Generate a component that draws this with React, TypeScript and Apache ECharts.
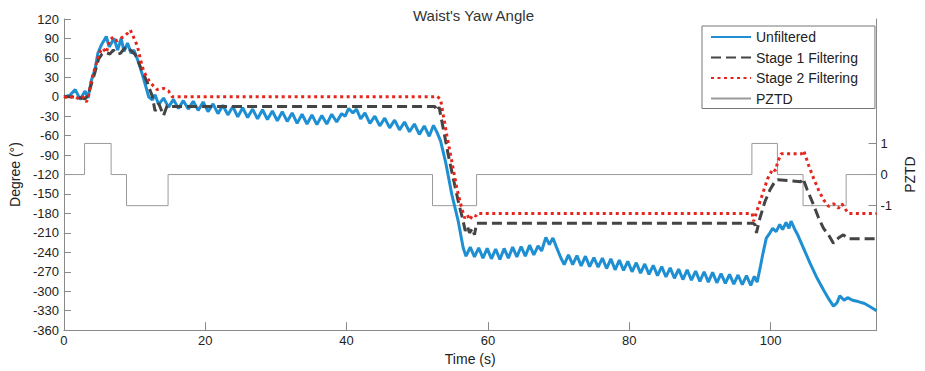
import React, { useEffect, useRef } from "react";
import * as echarts from "echarts";

const chartTitle = "Waist's Yaw Angle";
const xTickValues = [0, 20, 40, 60, 80, 100];
const pztdTickValues = [-1, 0, 1];

const unfiltered: [number, number][] = [
  [0, 0], [0.8, 2], [1.6, 11], [2.3, -4], [3.0, 9], [3.4, -2], [3.9, 26], [4.4, 42], [4.8, 67], [5.3, 80],
  [6.0, 93], [6.4, 77], [7.1, 90], [7.6, 72], [8.1, 90], [8.5, 70], [9.0, 83], [9.5, 67], [9.9, 72], [10.6, 52],
  [11.3, 27], [12.0, 0], [12.5, -5], [12.9, 3], [13.4, -12], [14.1, -2], [14.8, -16], [15.5, -4], [16.2, -18], [16.9, -6],
  [17.6, -19], [18.3, -7], [19.0, -21], [19.7, -8], [20.4, -23], [21.1, -11], [21.8, -26], [22.5, -13], [23.2, -28], [23.9, -15],
  [24.6, -31], [25.3, -17], [26.0, -32], [26.7, -19], [27.4, -34], [28.1, -20], [28.8, -35], [29.5, -22], [30.2, -37], [30.9, -23],
  [31.6, -38], [32.3, -25], [33.0, -41], [33.7, -27], [34.4, -42], [35.1, -28], [35.8, -43], [36.5, -29], [37.2, -42], [37.9, -27],
  [38.6, -39], [39.3, -26], [39.8, -30], [40.3, -18], [40.9, -25], [41.4, -19], [42.0, -34], [42.6, -25], [43.3, -41], [44.0, -30],
  [44.7, -45], [45.4, -33], [46.1, -48], [46.8, -36], [47.5, -51], [48.2, -39], [48.9, -54], [49.6, -42], [50.3, -58], [51.0, -45],
  [51.7, -61], [52.3, -44], [52.8, -55], [53.3, -68], [54.0, -100], [54.9, -151], [55.8, -192], [56.5, -233], [56.9, -246], [57.5, -232],
  [58.1, -247], [58.7, -233], [59.3, -249], [59.9, -234], [60.5, -250], [61.1, -235], [61.7, -251], [62.3, -234], [62.9, -249], [63.5, -232],
  [64.1, -247], [64.7, -231], [65.3, -246], [65.9, -229], [66.5, -244], [67.1, -230], [67.6, -238], [68.2, -217], [68.7, -228], [69.2, -218],
  [69.7, -232], [70.3, -248], [70.8, -259], [71.4, -244], [72.0, -259], [72.6, -245], [73.2, -261], [73.8, -246], [74.4, -262], [75.0, -248],
  [75.6, -263], [76.2, -249], [76.8, -265], [77.4, -250], [78.0, -267], [78.6, -252], [79.2, -268], [79.8, -254], [80.4, -270], [81.0, -256],
  [81.6, -272], [82.2, -258], [82.8, -274], [83.4, -260], [84.0, -276], [84.6, -262], [85.2, -278], [85.8, -264], [86.4, -280], [87.0, -266],
  [87.6, -282], [88.2, -267], [88.8, -283], [89.4, -269], [90.0, -285], [90.6, -270], [91.2, -286], [91.8, -271], [92.4, -287], [93.0, -273],
  [93.6, -288], [94.2, -274], [94.8, -289], [95.4, -275], [96.0, -290], [96.6, -276], [97.2, -291], [97.7, -277], [98.1, -286], [98.6, -260],
  [98.9, -243], [99.4, -218], [99.8, -212], [100.3, -203], [100.8, -208], [101.3, -197], [101.7, -205], [102.2, -194], [102.6, -203], [102.9, -192],
  [103.4, -204], [103.8, -212], [104.6, -232], [105.6, -257], [106.5, -278], [107.5, -298], [108.3, -313], [108.9, -323], [109.4, -318], [109.8, -307],
  [110.4, -314], [110.9, -310], [111.6, -314], [112.4, -316], [113.3, -319], [114.1, -324], [115, -330],
];

const stage1: [number, number][] = [
  [0, 0], [1, 0], [2, -1], [3, -3], [3.4, 2], [3.9, 20], [4.4, 38], [4.9, 58], [5.4, 66], [6.0, 68],
  [6.5, 66], [7.0, 72], [7.5, 66], [8.0, 67], [8.5, 74], [9.0, 77], [9.6, 70], [10.1, 65], [10.8, 47], [11.8, 22],
  [12.5, 1], [12.9, -22], [13.4, -10], [14.1, -29], [14.6, -14], [15.3, -15], [52.5, -15], [52.8, -22], [53.1, -16], [53.7, -50],
  [54.4, -90], [55.1, -126], [55.8, -161], [56.5, -192], [56.8, -207], [57.1, -200], [57.4, -210], [57.8, -203], [58.1, -213], [58.4, -195],
  [97.5, -195], [97.8, -197], [98.0, -210], [98.5, -187], [99.2, -162], [99.9, -144], [100.6, -131], [101.0, -128], [104.3, -131], [104.6, -126],
  [105.2, -144], [106.1, -167], [106.8, -187], [107.5, -203], [108.2, -213], [108.9, -226], [109.6, -218], [110.3, -213], [111.0, -219], [115, -219],
];

const stage2: [number, number][] = [
  [0, 0], [0.7, -2], [1.4, 1], [2.1, -3], [2.7, 0], [3.2, -8], [3.5, 2], [3.9, 26], [4.6, 52], [5.0, 68],
  [5.5, 75], [6.0, 68], [6.5, 88], [7.0, 92], [7.5, 86], [8.0, 90], [8.5, 93], [9.0, 98], [9.4, 103], [9.9, 91],
  [10.4, 78], [10.85, 57], [11.3, 39], [12.2, 22], [13.2, 11], [14.1, 13], [14.8, 9], [15.3, 0], [52.3, 0], [52.8, 1],
  [53.3, -4], [53.7, -29], [54.2, -60], [54.9, -100], [55.6, -141], [56.3, -172], [56.7, -187], [57.1, -182], [57.4, -190], [57.9, -182],
  [58.3, -184], [58.5, -180], [97.4, -180], [97.6, -192], [98.2, -172], [98.9, -149], [99.6, -126], [100.0, -118], [100.3, -111], [100.7, -114],
  [101.0, -101], [101.5, -88], [104.4, -88], [104.7, -83], [105.4, -106], [106.1, -126], [106.8, -144], [107.5, -159], [108.2, -169], [108.9, -165],
  [109.6, -172], [110.1, -165], [110.5, -172], [111.0, -180], [115, -180],
];

const pztd: [number, number][] = [
  [0, 0], [2.92, 1], [6.68, 0], [8.86, -1], [14.74, 0], [52.16, -1], [58.4, 0], [97.36, 1], [100.97, 0], [104.6, -1],
  [110.7, 0], [115, 0],
];

const FONT = "'Liberation Sans', Arial, Helvetica, sans-serif";
const AXIS_GRAY = "#8a8a8a";

export default function App() {
  const ref = useRef<HTMLDivElement>(null);
  useEffect(() => {
    if (!ref.current) return;
    const chart = echarts.init(ref.current, undefined, { renderer: "svg" });
    chart.setOption({
      animation: false,
      backgroundColor: "#ffffff",
      textStyle: { fontFamily: FONT },
      title: {
        text: chartTitle,
        left: 413,
        top: 8,
        padding: 0,
        textStyle: { fontFamily: FONT, fontSize: 15, fontWeight: "normal", color: "#333" },
      },
      legend: {
        left: 702,
        top: 26,
        orient: "vertical",
        padding: [4, 17, 3, 8],
        itemWidth: 40,
        itemHeight: 14,
        itemGap: 6.5,
        borderColor: "#777",
        borderWidth: 1,
        backgroundColor: "#fff",
        itemStyle: { opacity: 0, borderWidth: 0 },
        textStyle: { fontFamily: FONT, fontSize: 14, color: "#222" },
        data: ["Unfiltered", "Stage 1 Filtering", "Stage 2 Filtering", "PZTD"],
      },
      grid: { left: 62, right: 36, top: 19, bottom: 38, containLabel: false },
      xAxis: {
        type: "value",
        min: 0,
        max: 115,
        interval: 20,
        name: "Time (s)",
        nameLocation: "middle",
        nameGap: 21,
        nameTextStyle: { fontFamily: FONT, fontSize: 14, color: "#222" },
        axisLine: { show: true, onZero: false, lineStyle: { color: AXIS_GRAY, width: 1 } },
        axisTick: { show: true, inside: true, length: 8, lineStyle: { color: AXIS_GRAY }, customValues: xTickValues },
        axisLabel: { margin: 4, fontSize: 13, color: "#222", fontFamily: FONT, customValues: xTickValues },
        splitLine: { show: false },
      },
      yAxis: [
        {
          type: "value",
          min: -360,
          max: 120,
          interval: 30,
          name: "Degree (°)",
          nameLocation: "middle",
          nameRotate: 90,
          nameGap: 40,
          nameTextStyle: { fontFamily: FONT, fontSize: 14, color: "#222" },
          axisLine: { show: true, onZero: false, lineStyle: { color: AXIS_GRAY, width: 1 } },
          axisTick: { show: true, inside: true, length: 7, lineStyle: { color: AXIS_GRAY } },
          axisLabel: { margin: 5, fontSize: 13, color: "#222", fontFamily: FONT },
          splitLine: { show: false },
        },
        {
          type: "value",
          position: "right",
          min: -5,
          max: 5,
          interval: 1,
          name: "PZTD",
          nameLocation: "middle",
          nameRotate: 90,
          nameGap: 17,
          nameTextStyle: { fontFamily: FONT, fontSize: 14, color: "#222" },
          axisLine: { show: true, onZero: false, lineStyle: { color: AXIS_GRAY, width: 1 } },
          axisTick: { show: true, inside: true, length: 8, lineStyle: { color: AXIS_GRAY }, customValues: pztdTickValues },
          axisLabel: { margin: 4, fontSize: 13, color: "#222", fontFamily: FONT, customValues: pztdTickValues },
          splitLine: { show: false },
        },
      ],
      series: [
        {
          name: "Unfiltered",
          type: "line",
          data: unfiltered,
          showSymbol: false,
          symbol: "none",
          lineStyle: { color: "#1e8fd2", width: 3 },
          itemStyle: { color: "#1e8fd2" },
          z: 2,
        },
        {
          name: "Stage 1 Filtering",
          type: "line",
          data: stage1,
          showSymbol: false,
          symbol: "none",
          lineStyle: { color: "#444444", width: 3, type: [10, 5] },
          itemStyle: { color: "#444444" },
          z: 3,
        },
        {
          name: "Stage 2 Filtering",
          type: "line",
          data: stage2,
          showSymbol: false,
          symbol: "none",
          lineStyle: { color: "#e5261c", width: 3, type: [3, 3.5] },
          itemStyle: { color: "#e5261c" },
          z: 4,
        },
        {
          name: "PZTD",
          type: "line",
          yAxisIndex: 1,
          step: "end",
          data: pztd,
          showSymbol: false,
          symbol: "none",
          lineStyle: { color: "#9a9a9a", width: 1 },
          itemStyle: { color: "#9a9a9a" },
          z: 1,
        },
      ],
    });
    return () => chart.dispose();
  }, []);
  return (
    <div
      ref={ref}
      style={{ position: "fixed", left: 0, top: 0, width: 925, height: 371, background: "#fff" }}
    />
  );
}
